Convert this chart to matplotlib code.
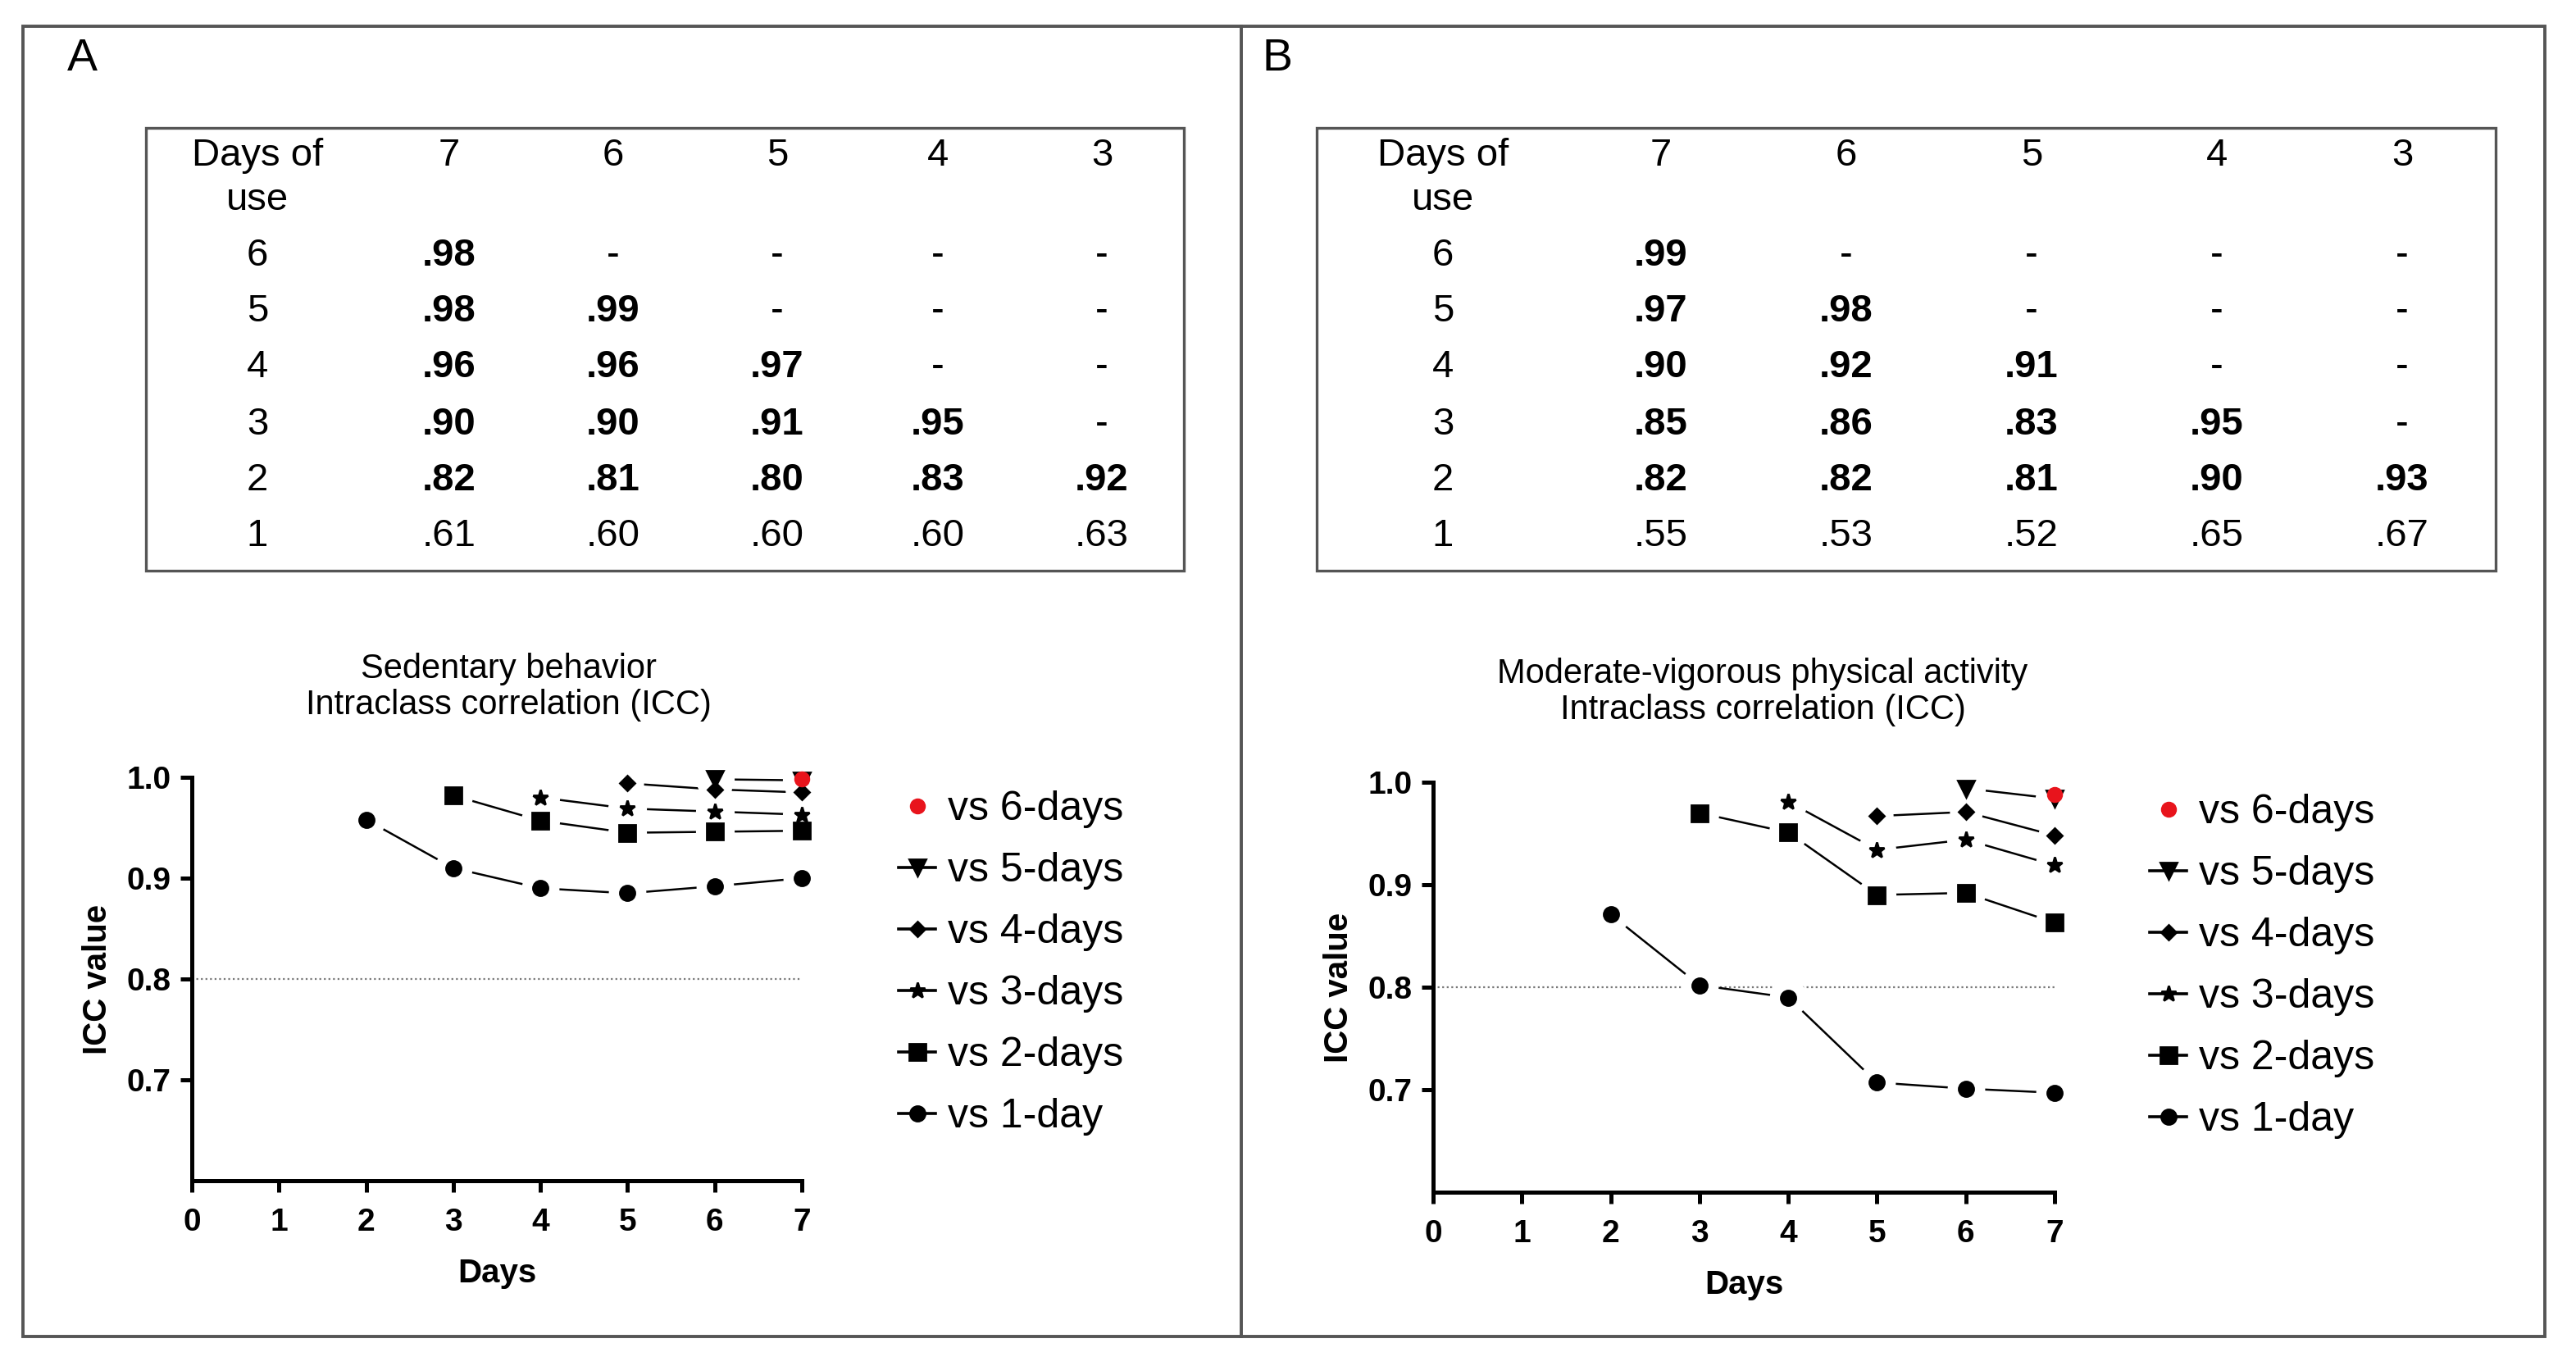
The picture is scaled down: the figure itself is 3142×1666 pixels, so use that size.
import matplotlib.pyplot as plt
from matplotlib.lines import Line2D
from matplotlib.patches import Rectangle

plt.rcParams['font.family'] = ['Liberation Sans', 'DejaVu Sans']

# Table data (rows = days of use, columns = days compared)
row_days = ['6', '5', '4', '3', '2', '1']
col_days = ['7', '6', '5', '4', '3']
table_a = [['.98', '-', '-', '-', '-'],
           ['.98', '.99', '-', '-', '-'],
           ['.96', '.96', '.97', '-', '-'],
           ['.90', '.90', '.91', '.95', '-'],
           ['.82', '.81', '.80', '.83', '.92'],
           ['.61', '.60', '.60', '.60', '.63']]
table_b = [['.99', '-', '-', '-', '-'],
           ['.97', '.98', '-', '-', '-'],
           ['.90', '.92', '.91', '-', '-'],
           ['.85', '.86', '.83', '.95', '-'],
           ['.82', '.82', '.81', '.90', '.93'],
           ['.55', '.53', '.52', '.65', '.67']]

# ICC curves (x = days)
days_vs1 = [2, 3, 4, 5, 6, 7]
days_vs2 = [3, 4, 5, 6, 7]
days_vs3 = [4, 5, 6, 7]
days_vs4 = [5, 6, 7]
days_vs5 = [6, 7]
days_vs6 = [7]

sed_vs1 = [0.958, 0.910, 0.890, 0.885, 0.892, 0.900]
sed_vs2 = [0.982, 0.957, 0.945, 0.946, 0.947]
sed_vs3 = [0.980, 0.969, 0.966, 0.963]
sed_vs4 = [0.994, 0.988, 0.985]
sed_vs5 = [0.998, 0.997]
sed_vs6 = [0.998]

mvpa_vs1 = [0.871, 0.802, 0.790, 0.707, 0.701, 0.697]
mvpa_vs2 = [0.970, 0.951, 0.890, 0.892, 0.863]
mvpa_vs3 = [0.981, 0.934, 0.944, 0.919]
mvpa_vs4 = [0.967, 0.971, 0.948]
mvpa_vs5 = [0.994, 0.984]
mvpa_vs6 = [0.988]

labels = ['vs 6-days', 'vs 5-days', 'vs 4-days', 'vs 3-days', 'vs 2-days', 'vs 1-day']
markers = ['o', 'v', 'D', '*', 's', 'o']
msizes = [6, 7, 4.5, 7, 7, 6.5]
colors = ['#e8141c', 'black', 'black', 'black', 'black', 'black']

W, H = 1571.0, 833.0


def fx(px):
    return px / W


def fy(py):
    return 1 - py / H


def box(fig, x0, y0, x1, y1, lw=1.2, color='#555555'):
    fig.add_artist(Rectangle((fx(x0), fy(y1)), fx(x1) - fx(x0), fy(y0) - fy(y1),
                             transform=fig.transFigure, fill=False, lw=lw, ec=color))


def draw_table(fig, x0, x1, hdr_x, col_x, values):
    box(fig, x0, 78, x1, 348)
    fs = 17
    fig.text(fx(hdr_x), fy(95), 'Days of', ha='center', va='center', fontsize=fs)
    fig.text(fx(hdr_x), fy(122), 'use', ha='center', va='center', fontsize=fs)
    for cx, c in zip(col_x, col_days):
        fig.text(fx(cx), fy(95), c, ha='center', va='center', fontsize=fs)
    row_y = [156, 190, 224, 259, 293, 327]
    for i, (ry, r) in enumerate(zip(row_y, row_days)):
        fig.text(fx(hdr_x), fy(ry), r, ha='center', va='center', fontsize=fs)
        for cx, v in zip(col_x, values[i]):
            bold = v != '-' and r != '1'
            fig.text(fx(cx), fy(ry), v, ha='center', va='center', fontsize=fs,
                     fontweight='bold' if bold else 'normal')


def draw_plot(fig, rect, title, title_x, xs, ys, leg_x, leg_y):
    left, top, right, bottom = rect
    ax = fig.add_axes([fx(left), fy(bottom), fx(right) - fx(left), fy(top) - fy(bottom)])
    # series drawn from vs 1-day up to vs 6-days
    for k in range(5, -1, -1):
        ax.plot(xs[k], ys[k], color='black', lw=0.9, zorder=2, clip_on=False)
        ax.plot(xs[k], ys[k], ls='none', marker='o', ms=msizes[k] + 10, mfc='white',
                mec='none', zorder=3, clip_on=False)
        ax.plot(xs[k], ys[k], ls='none', marker=markers[k], ms=msizes[k], mfc=colors[k],
                mec=colors[k], zorder=4, clip_on=False)
    ax.plot([0, 7], [0.8, 0.8], color='#777777', lw=0.8, ls=(0, (1, 1.5)), zorder=1)
    ax.set_xlim(0, 7)
    ax.set_ylim(0.6, 1.0)
    ax.set_xticks(range(8))
    ax.set_yticks([0.7, 0.8, 0.9, 1.0])
    ax.set_yticklabels(['0.7', '0.8', '0.9', '1.0'])
    for s in ['top', 'right']:
        ax.spines[s].set_visible(False)
    for s in ['left', 'bottom']:
        ax.spines[s].set_linewidth(1.8)
    ax.tick_params(width=1.8, length=5, labelsize=14)
    ax.tick_params(axis='x', pad=7)
    ax.tick_params(axis='y', pad=4)
    for t in ax.get_xticklabels() + ax.get_yticklabels():
        t.set_fontweight('bold')
    ax.set_xlabel('Days', fontsize=14.5, fontweight='bold', labelpad=9)
    ax.set_ylabel('ICC value', fontsize=14.5, fontweight='bold', labelpad=6)
    fig.text(fx(title_x), fy(top - 55), title, ha='center', va='center', fontsize=15,
             linespacing=1.15)

    handles = [Line2D([0], [0], ls='none', marker='o', ms=6, mfc=colors[0], mec=colors[0])]
    for k in range(1, 6):
        handles.append(Line2D([0], [0], color='black', lw=1.3, marker=markers[k],
                              ms=msizes[k], mfc='black', mec='black'))
    fig.legend(handles, labels, loc='upper left', bbox_to_anchor=(fx(leg_x), fy(leg_y)),
               frameon=False, fontsize=18, handlelength=0.9, handletextpad=0.3,
               labelspacing=0.58, borderpad=0, borderaxespad=0)
    return ax


fig = plt.figure(figsize=(15.71, 8.33), dpi=200)

# outer frames
box(fig, 14, 16, 1552, 815, lw=1.4)
fig.add_artist(Line2D([fx(757), fx(757)], [fy(16), fy(815)], transform=fig.transFigure,
                      lw=1.4, color='#555555'))
fig.text(fx(50), fy(36), 'A', ha='center', va='center', fontsize=20)
fig.text(fx(779), fy(36), 'B', ha='center', va='center', fontsize=20)

draw_table(fig, 89, 722, 157, [274, 374, 474, 572, 672], table_a)
draw_table(fig, 803, 1522, 880, [1013, 1126, 1239, 1352, 1465], table_b)

xs = [days_vs6, days_vs5, days_vs4, days_vs3, days_vs2, days_vs1]
sed = [sed_vs6, sed_vs5, sed_vs4, sed_vs3, sed_vs2, sed_vs1]
mvpa = [mvpa_vs6, mvpa_vs5, mvpa_vs4, mvpa_vs3, mvpa_vs2, mvpa_vs1]

draw_plot(fig, (117, 474, 489, 720), 'Sedentary behavior\nIntraclass correlation (ICC)',
          310, xs, sed, 548, 482)
draw_plot(fig, (874, 477, 1253, 727), 'Moderate-vigorous physical activity\nIntraclass correlation (ICC)',
          1075, xs, mvpa, 1311, 484)

fig.savefig('out.png', dpi=200, facecolor='white')
